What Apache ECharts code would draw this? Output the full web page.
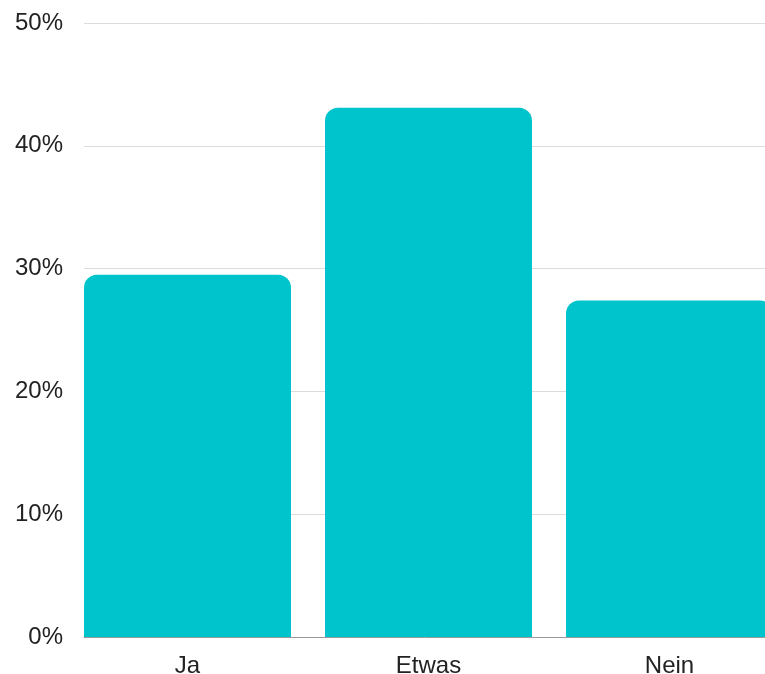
<!DOCTYPE html>
<html>
<head>
<meta charset="utf-8">
<script src="https://cdn.jsdelivr.net/npm/echarts@6/dist/echarts.min.js"></script>
<style>
  html, body { margin: 0; padding: 0; background: #fff; }
  #chart { width: 765px; height: 674px; }
</style>
</head>
<body>
<div id="chart"></div>
<script>
// Survey answers and their shares (percent)
const categories = ['Ja', 'Etwas', 'Nein'];
const shares = [29.5, 43.1, 27.4];
const yTicks = [0, 10, 20, 30, 40, 50];

const FONT = '"Liberation Sans", Arial, sans-serif';
const yMax = yTicks[yTicks.length - 1];
const yStep = yTicks[1] - yTicks[0];

const chart = echarts.init(document.getElementById('chart'), null, { renderer: 'canvas' });

chart.setOption({
  backgroundColor: '#ffffff',
  animation: false,
  grid: [
    // frame: value labels, horizontal guides and baseline
    { left: 84, right: 0, top: 23, bottom: 37, containLabel: false, outerBoundsMode: 'none' },
    // bars: category bands extend past both plot edges
    { left: 67, width: 723, top: 23, bottom: 37, containLabel: false, outerBoundsMode: 'none' }
  ],
  xAxis: [
    {
      gridIndex: 0, type: 'category', data: categories,
      axisLine: { show: true, lineStyle: { color: '#9a9a9a', width: 1 } },
      axisTick: { show: false }, axisLabel: { show: false }, splitLine: { show: false }
    },
    {
      gridIndex: 1, type: 'category', data: categories,
      axisLine: { show: false }, axisTick: { show: false }, splitLine: { show: false },
      axisLabel: { color: '#222', fontSize: 24, fontFamily: FONT, margin: 17 }
    }
  ],
  yAxis: [
    {
      gridIndex: 0, type: 'value', min: 0, max: yMax, interval: yStep,
      axisLine: { show: false }, axisTick: { show: false },
      axisLabel: {
        color: '#222', fontSize: 24, fontFamily: FONT, margin: 21,
        padding: [3, 0, 0, 0], formatter: '{value}%'
      },
      splitLine: { show: true, lineStyle: { color: '#dcdcdc', width: 1 } }
    },
    {
      gridIndex: 1, type: 'value', min: 0, max: yMax, interval: yStep, show: false,
      splitLine: { show: false }
    }
  ],
  series: [
    {
      type: 'bar',
      xAxisIndex: 1, yAxisIndex: 1,
      data: shares,
      barWidth: 207,
      itemStyle: { color: '#00c4cc', borderRadius: [13, 13, 0, 0] },
      z: 3
    }
  ]
});
</script>
</body>
</html>
